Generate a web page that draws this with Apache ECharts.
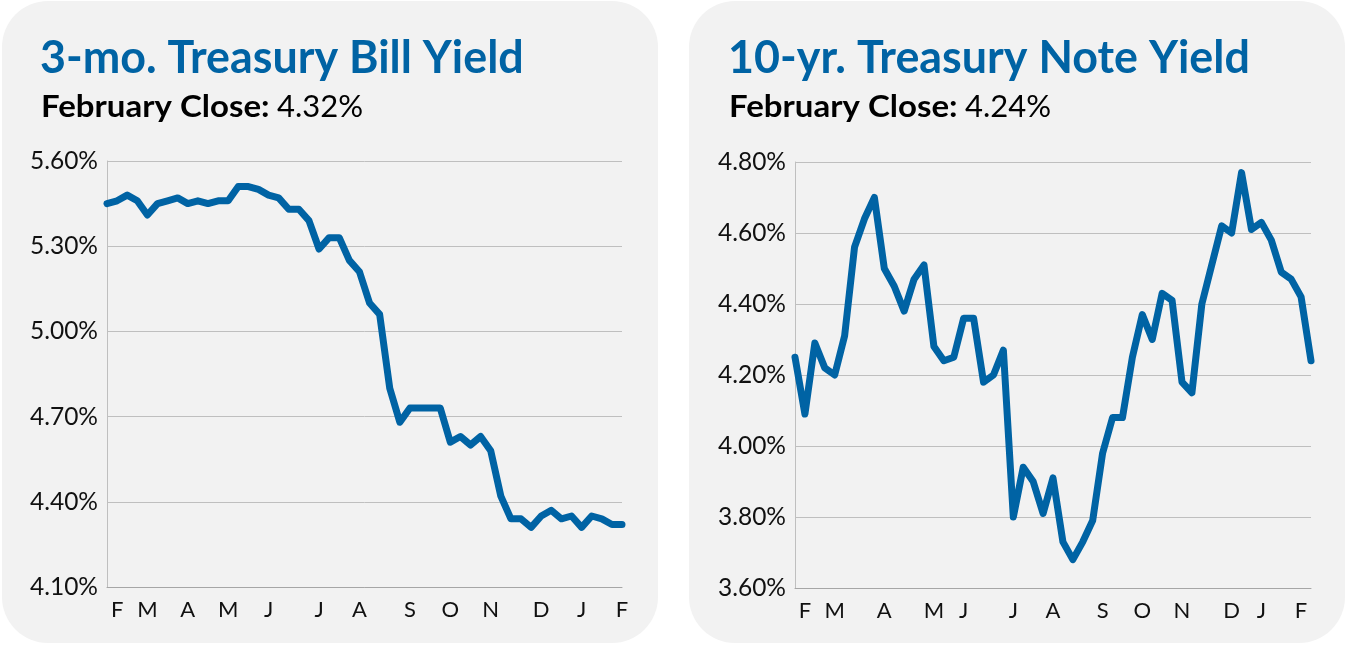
<!DOCTYPE html>
<html>
<head>
<meta charset="utf-8">
<script src="https://cdn.jsdelivr.net/npm/echarts@6.0.0/dist/echarts.min.js"></script>
<style>
  html, body { margin: 0; padding: 0; background: #ffffff; }
  #container { width: 1347px; height: 645px; }
</style>
</head>
<body>
<div id="container"></div>
<script>
// weekly closes
var billYield = [5.45, 5.46, 5.48, 5.46, 5.41, 5.45, 5.46, 5.47, 5.45, 5.46,
    5.45, 5.46, 5.46, 5.51, 5.51, 5.50, 5.48, 5.47, 5.43, 5.43,
    5.39, 5.29, 5.33, 5.33, 5.25, 5.21, 5.10, 5.06, 4.80, 4.68,
    4.73, 4.73, 4.73, 4.73, 4.61, 4.63, 4.60, 4.63, 4.58, 4.42,
    4.34, 4.34, 4.31, 4.35, 4.37, 4.34, 4.35, 4.31, 4.35, 4.34,
    4.32, 4.32];
var noteYield = [4.25, 4.09, 4.29, 4.22, 4.20, 4.31, 4.56, 4.64, 4.70, 4.50,
    4.45, 4.38, 4.47, 4.51, 4.28, 4.24, 4.25, 4.36, 4.36, 4.18,
    4.20, 4.27, 3.80, 3.94, 3.90, 3.81, 3.91, 3.73, 3.68, 3.73,
    3.79, 3.98, 4.08, 4.08, 4.25, 4.37, 4.30, 4.43, 4.41, 4.18,
    4.15, 4.40, 4.51, 4.62, 4.60, 4.77, 4.61, 4.63, 4.58, 4.49,
    4.47, 4.42, 4.24];

var monthLabels = ['F', 'M', 'A', 'M', 'J', 'J', 'A', 'S', 'O', 'N', 'D', 'J', 'F'];
// week on which each month letter sits
var billLabelWeeks = [1, 4, 8, 12, 16, 21, 25, 30, 34, 38, 43, 47, 51];
var noteLabelWeeks = [1, 4, 9, 14, 17, 22, 26, 31, 35, 39, 44, 47, 51];

var billTicks = [4.10, 4.40, 4.70, 5.00, 5.30, 5.60];
var noteTicks = [3.60, 3.80, 4.00, 4.20, 4.40, 4.60, 4.80];

var billTitle = '3-mo. Treasury Bill Yield';
var noteTitle = '10-yr. Treasury Note Yield';
var closeText = 'February Close:';
var billClose = '4.32%';
var noteClose = '4.24%';

var blue = '#0063a4';
var font = 'Lato, "Noto Sans", sans-serif';

var dom = document.getElementById('container');
var myChart = echarts.init(dom);

function weeks(n) {
    var a = [];
    for (var i = 0; i < n; i++) a.push(String(i));
    return a;
}

function xAxisFor(gridIndex, n, labelWeeks) {
    return {
        type: 'category',
        gridIndex: gridIndex,
        boundaryGap: false,
        data: weeks(n),
        axisLine: { show: true, lineStyle: { color: '#a6a6a6', width: 1 } },
        axisTick: { show: false },
        axisLabel: {
            interval: function (index) { return labelWeeks.indexOf(index) >= 0; },
            formatter: function (value, index) {
                var k = labelWeeks.indexOf(index);
                return k >= 0 ? monthLabels[k] : '';
            },
            color: '#111',
            fontFamily: font,
            fontSize: 22,
            margin: 12
        },
        splitLine: { show: false }
    };
}

function yAxisFor(gridIndex, ticks) {
    return {
        type: 'value',
        gridIndex: gridIndex,
        min: ticks[0],
        max: ticks[ticks.length - 1],
        axisLine: { show: true, lineStyle: { color: '#bfbfbf', width: 1 } },
        axisTick: { show: false, customValues: ticks },
        axisLabel: {
            customValues: ticks,
            formatter: function (v) { return v.toFixed(2) + '%'; },
            color: '#111',
            fontFamily: font,
            fontSize: 24.5,
            margin: 9
        },
        splitLine: { show: true, lineStyle: { color: '#bfbfbf', width: 1 } }
    };
}

function lineSeries(idx, data) {
    return {
        type: 'line',
        xAxisIndex: idx,
        yAxisIndex: idx,
        data: data,
        showSymbol: false,
        smooth: false,
        silent: true,
        lineStyle: { color: blue, width: 7, cap: 'round', join: 'round' }
    };
}

function panel(x) {
    return {
        type: 'rect',
        z: -10,
        shape: { x: x, y: 1, width: 656, height: 642, r: 46 },
        style: { fill: '#f2f2f2' }
    };
}

function title(x, text) {
    return {
        type: 'text',
        x: x,
        y: 58,
        scaleX: 0.975,
        style: {
            text: text,
            fill: blue,
            font: 'bold 46px ' + font,
            verticalAlign: 'middle'
        }
    };
}

// "February Close:" in heavy type, the value in regular type after it
function closeLine(x, value) {
    return {
        type: 'group',
        x: x,
        y: 107,
        children: [
            {
                type: 'text',
                x: 0,
                scaleX: 1.1,
                style: {
                    text: closeText,
                    fill: '#000',
                    font: 'bold 30px ' + font,
                    verticalAlign: 'middle'
                }
            },
            {
                type: 'text',
                x: 236,
                style: {
                    text: value,
                    fill: '#000',
                    font: 'normal 31px ' + font,
                    verticalAlign: 'middle'
                }
            }
        ]
    };
}

option = {
    backgroundColor: '#ffffff',
    animation: false,
    graphic: [
        panel(2),
        panel(689),
        title(40, billTitle),
        title(728, noteTitle),
        closeLine(41, billClose),
        closeLine(729, noteClose)
    ],
    grid: [
        { left: 107, top: 161, width: 515, height: 426 },
        { left: 795, top: 162, width: 516, height: 426 }
    ],
    xAxis: [
        xAxisFor(0, billYield.length, billLabelWeeks),
        xAxisFor(1, noteYield.length, noteLabelWeeks)
    ],
    yAxis: [
        yAxisFor(0, billTicks),
        yAxisFor(1, noteTicks)
    ],
    series: [
        lineSeries(0, billYield),
        lineSeries(1, noteYield)
    ]
};

if (option && typeof option === "object") {
    myChart.setOption(option, true);
}
</script>
</body>
</html>
